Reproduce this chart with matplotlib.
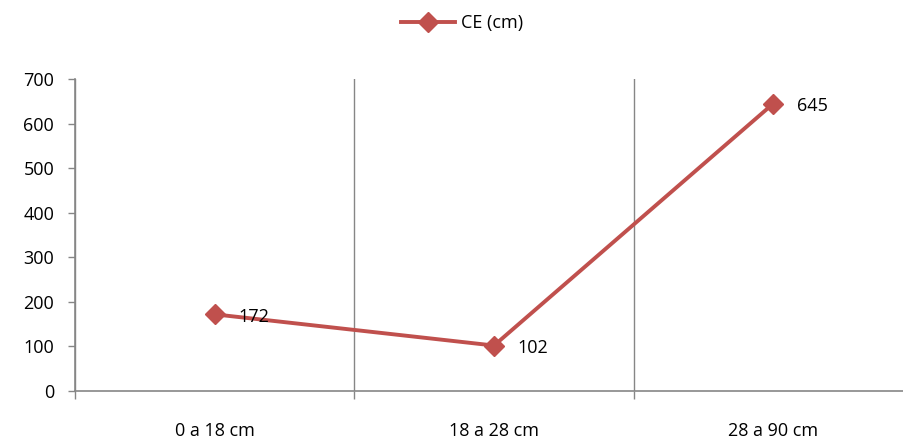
import matplotlib
matplotlib.use('Agg')
import matplotlib.pyplot as plt
import numpy as np

# === Data ===
categories = ['0 a 18 cm', '18 a 28 cm', '28 a 90 cm']
ce_values = [172, 102, 645]
series_name = 'CE (cm)'

plt.rcParams['font.family'] = ['Open Sans', 'DejaVu Sans']

fig = plt.figure(figsize=(9.04, 4.46), dpi=100)
ax = fig.add_axes([75 / 904, 1 - 391 / 446, 838 / 904, 312 / 446])

x = np.arange(len(categories))
red = '#C0504D'
gray = '#868686'

ax.plot(x, ce_values, color=red, linewidth=2.8, marker='D', markersize=10,
        label=series_name, zorder=3)
for xi, v in zip(x, ce_values):
    ax.annotate(str(v), (xi, v), xytext=(17, -2), textcoords='offset points',
                fontsize=13, va='center', ha='left', color='black')

ax.set_xlim(-0.5, len(categories) - 0.5)
ax.set_ylim(0, 700)
ax.set_yticks(range(0, 701, 100))

# category ticks in the middle, boundary ticks/gridlines between
ax.set_xticks(x)
ax.set_xticklabels(categories, fontsize=13)
ax.set_xticks(np.arange(-0.5, len(categories), 1), minor=True)
ax.tick_params(axis='x', which='major', length=0, pad=22)
ax.tick_params(axis='x', which='minor', length=6, color=gray, width=1, direction='out')
ax.tick_params(axis='y', length=5, color=gray, width=1, direction='out', labelsize=13, pad=10)
ax.grid(axis='x', which='minor', color=gray, linewidth=1)

for side in ['top', 'right']:
    ax.spines[side].set_visible(False)
for side in ['left', 'bottom']:
    ax.spines[side].set_color(gray)
    ax.spines[side].set_linewidth(1.2)

fig.legend(loc='upper center', bbox_to_anchor=(462 / 904, 1.005), frameon=False,
           fontsize=13, handlelength=3.0, handletextpad=0.3)

plt.savefig('out.png', dpi=100)
